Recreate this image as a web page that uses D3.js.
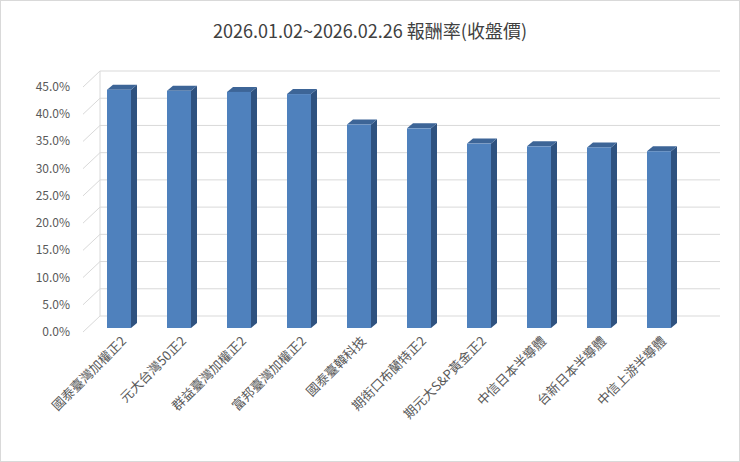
<!DOCTYPE html>
<html><head><meta charset="utf-8">
<script src="https://cdn.jsdelivr.net/npm/d3@7"></script>
<style>body{margin:0;background:#fff}svg{font-family:"Noto Sans CJK TC","Noto Sans",sans-serif}</style>
</head><body><svg id="c" width="740" height="462"></svg>
<script>
var categories = ["國泰臺灣加權正2","元大台灣50正2","群益臺灣加權正2","富邦臺灣加權正2","國泰臺韓科技","期街口布蘭特正2","期元大S&P黃金正2","中信日本半導體","台新日本半導體","中信上游半導體"];
var values = [43.4, 43.2, 43.0, 42.6, 37.0, 36.3, 33.5, 33.0, 32.8, 32.1];
var tickValues = [0,5,10,15,20,25,30,35,40,45];

var svg = d3.select("#c");
svg.append("rect").attr("x",0.5).attr("y",0.5).attr("width",739).attr("height",461)
  .attr("fill","#fff").attr("stroke","#d9d9d9");
svg.append("text").attr("x",370).attr("y",38).attr("text-anchor","middle")
  .attr("font-size",18).attr("fill","#404040").text("2026.01.02~2026.02.26 報酬率(收盤價)");

var dx = 17, dy = -16;  // depth of the 3D wall
var y = d3.scaleLinear().domain([0,45]).range([332,87]);
var x = d3.scaleBand().domain(categories).range([89,689]).paddingInner(0.6).paddingOuter(0.3);

// back wall gridlines + left diagonals
tickValues.forEach(function(t){
  svg.append("line").attr("x1",83+dx).attr("x2",720).attr("y1",y(t)+dy).attr("y2",y(t)+dy)
    .attr("stroke","#d9d9d9");
  svg.append("line").attr("x1",83).attr("x2",83+dx).attr("y1",y(t)).attr("y2",y(t)+dy)
    .attr("stroke","#d9d9d9");
});
svg.append("line").attr("x1",83+dx).attr("x2",83+dx).attr("y1",y(0)+dy).attr("y2",y(45)+dy).attr("stroke","#d9d9d9");

svg.append("g").selectAll("text").data(tickValues).enter().append("text")
  .attr("x",70).attr("y",function(t){return y(t)+4;}).attr("text-anchor","end")
  .attr("font-size",12).attr("fill","#595959").text(function(t){return t.toFixed(1)+"%";});

// bars
var sd = 6, su = 5;
var g = svg.append("g").selectAll("g").data(values).enter().append("g");
g.each(function(v,i){
  var el = d3.select(this);
  var x0 = x(categories[i]), w = x.bandwidth();
  var top = y(v) - 6, bot = 328;
  el.append("polygon").attr("points",[[x0+w,top],[x0+w+sd,top-su],[x0+w+sd,bot-su],[x0+w,bot]].join(" "))
    .attr("fill","#2f527f");
  el.append("polygon").attr("points",[[x0,top],[x0+sd,top-su],[x0+w+sd,top-su],[x0+w,top]].join(" "))
    .attr("fill","#3d6597");
  el.append("rect").attr("x",x0).attr("y",top).attr("width",w).attr("height",bot-top)
    .attr("fill","#4f81bd");
});

// category labels
svg.append("g").selectAll("text").data(categories).enter().append("text")
  .attr("transform",function(c){return "translate("+(x(c)+x.bandwidth()/2+8)+",342) rotate(-45)";})
  .attr("text-anchor","end").attr("font-size",13).attr("fill","#595959").text(function(c){return c;});
</script></body></html>
